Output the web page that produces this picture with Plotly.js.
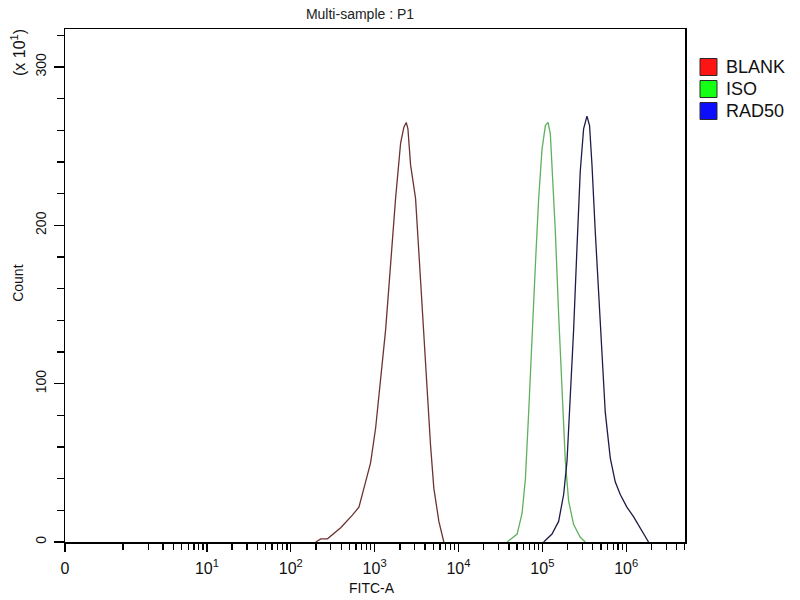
<!DOCTYPE html>
<html>
<head>
<meta charset="utf-8">
<script src="https://cdn.plot.ly/plotly-3.0.1.min.js"></script>
<style>html,body{margin:0;padding:0;background:#fff;}#chart{width:800px;height:600px;}</style>
</head>
<body>
<div id="chart"></div>
<script>
// FITC-A intensity (x) and Count (y, in units of 10^1)
var blankX = [199, 228, 274, 394, 543, 650, 746, 895, 1028, 1178, 1352, 1549, 1778, 2042, 2234, 2382, 2495, 2685, 3076, 3532, 4046, 4645, 5082, 5834, 6683];
var blankY = [0, 2, 2, 9, 17, 22, 34, 50, 72, 103, 134, 175, 217, 252, 262, 265, 261, 238, 217, 165, 113, 61, 34, 13, 0];

var isoX = [38019, 50003, 57280, 62806, 68707, 75336, 82604, 90365, 99083, 108643, 116950, 124451, 130317, 142889, 156315, 171396, 187932, 205589, 236048, 283139, 325087];
var isoY = [0, 5, 18, 40, 82, 134, 175, 217, 248, 263, 265, 258, 238, 196, 144, 92, 51, 26, 11, 3, 0];

var radX = [103753, 130317, 156315, 179473, 196789, 215278, 236048, 258821, 283139, 310456, 340408, 365595, 390841, 427563, 468813, 514044, 562341, 645654, 739605, 849180, 1018591, 1221799, 1468944, 1845015];
var radY = [0, 5, 13, 30, 51, 92, 134, 186, 234, 261, 269, 263, 238, 196, 155, 113, 82, 53, 38, 30, 22, 16, 9, 0];

var seriesNames = ["BLANK", "ISO", "RAD50"];
var lineColors = ["#6e3232", "#5fb05f", "#1c1c48"];
var legendColors = ["#ff1414", "#14ff14", "#0e0eff"];

var xTickVals = [0.203, 10, 100, 1000, 10000, 100000, 1000000];
var xTickText = ["0", "10<sup>1</sup>", "10<sup>2</sup>", "10<sup>3</sup>", "10<sup>4</sup>", "10<sup>5</sup>", "10<sup>6</sup>"];
var yTickVals = [0, 100, 200, 300];
var yTickText = ["0", "100", "200", "300"];

var xMinor = [];
for (var d = 0; d <= 6; d++) {
  for (var m = 1; m <= 9; m++) {
    if (m === 1 && d > 0) continue;
    var v = m * Math.pow(10, d);
    if (v <= 5000000) xMinor.push(v);
  }
}
var yMinor = [];
for (var k = 0; k <= 320; k += 20) yMinor.push(k);

var font = "Liberation Sans, Arial, sans-serif";
var xs = [blankX, isoX, radX], ys = [blankY, isoY, radY];
var data = [];
for (var i = 0; i < 3; i++) {
  data.push({x: xs[i], y: ys[i], type: "scatter", mode: "lines", name: seriesNames[i],
    line: {color: lineColors[i], width: 1.3}, showlegend: false, hoverinfo: "skip"});
}

// legend drawn as key boxes + labels to the right of the plot area
var shapes = [], annotations = [];
var plotW = 620, plotH = 513;
for (var j = 0; j < 3; j++) {
  var cy = 67 + j * 22;           // pixel centre of each key row (from top)
  var yTop = (542 - (cy - 8.5)) / plotH, yBot = (542 - (cy + 8.5)) / plotH;
  shapes.push({type: "rect", xref: "paper", yref: "paper",
    x0: (700 - 65) / plotW, x1: (717 - 65) / plotW, y0: yBot, y1: yTop,
    fillcolor: legendColors[j], line: {color: "#2a2a2a", width: 1}});
  annotations.push({text: seriesNames[j], xref: "paper", yref: "paper",
    x: (724 - 65) / plotW, y: (542 - cy) / plotH, xanchor: "left", yanchor: "middle",
    showarrow: false, font: {family: font, size: 18, color: "#111"}});
}
annotations.push(
  {text: "FITC-A", xref: "paper", yref: "paper", x: 0.495, y: -0.0897, xanchor: "center", yanchor: "middle",
    showarrow: false, font: {family: font, size: 14, color: "#111"}},
  {text: "Count", xref: "paper", yref: "paper", x: -0.076, y: 0.505, xanchor: "center", yanchor: "middle",
    textangle: -90, showarrow: false, font: {family: font, size: 14, color: "#111"}},
  {text: "(x 10<sup>1</sup>)", xref: "paper", yref: "paper", x: -0.076, y: 0.955, xanchor: "center", yanchor: "middle",
    textangle: -90, showarrow: false, font: {family: font, size: 16, color: "#111"}}
);

var layout = {
  width: 800, height: 600,
  margin: {l: 65, r: 115, t: 29, b: 58},
  paper_bgcolor: "#fff", plot_bgcolor: "#fff",
  showlegend: false,
  font: {family: font, size: 13, color: "#111"},
  title: {text: "Multi-sample : P1", x: 0.45, xref: "container", y: 0.977, yanchor: "middle",
    font: {family: font, size: 14, color: "#222"}},
  xaxis: {type: "log", range: [-0.692, 6.701], showgrid: false, zeroline: false,
    showline: true, linecolor: "#000", linewidth: 1.5, mirror: true,
    tickmode: "array", tickvals: xTickVals, ticktext: xTickText,
    ticks: "outside", ticklen: 8, tickwidth: 1.3, tickcolor: "#000", ticklabelstandoff: 3,
    tickfont: {family: font, size: 16, color: "#111"},
    minor: {tickmode: "array", tickvals: xMinor, ticks: "outside", ticklen: 6, tickwidth: 1.3, tickcolor: "#000", showgrid: false}},
  yaxis: {range: [0, 324], showgrid: false, zeroline: false,
    showline: true, linecolor: "#000", linewidth: 1.5, mirror: true,
    tickmode: "array", tickvals: yTickVals, ticktext: yTickText, tickangle: -90,
    ticks: "outside", ticklen: 10, tickwidth: 1.3, tickcolor: "#000", ticklabelstandoff: 2,
    tickfont: {family: font, size: 14, color: "#111"},
    minor: {tickmode: "array", tickvals: yMinor, ticks: "outside", ticklen: 7, tickwidth: 1.3, tickcolor: "#000", showgrid: false}},
  shapes: shapes,
  annotations: annotations
};
Plotly.newPlot("chart", data, layout, {displayModeBar: false, staticPlot: true});
</script>
</body>
</html>
